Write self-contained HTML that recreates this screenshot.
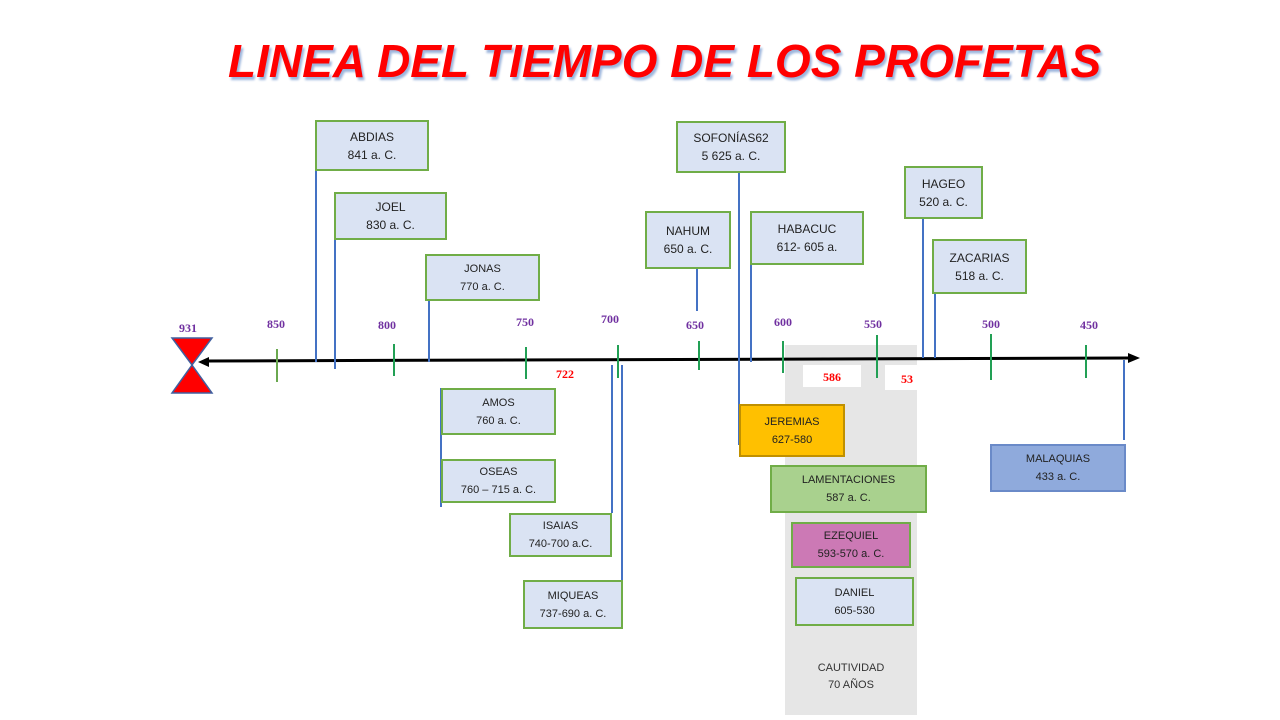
<!DOCTYPE html>
<html><head><meta charset="utf-8"><style>
body{margin:0;width:1280px;height:720px;background:#fff;position:relative;overflow:hidden;font-family:"Liberation Sans",sans-serif}
.b{position:absolute;box-sizing:border-box;border:2px solid #70ad47;background:#dae3f3;color:#222;font-size:12px;line-height:18px;text-align:center;display:flex;flex-direction:column;justify-content:center}
.v{position:absolute;width:1.5px;background:#4472c4}
.t{position:absolute;width:1.5px;background:#22a055}
.y{position:absolute;font-family:"Liberation Serif",serif;font-weight:bold;font-size:12px;color:#7030a0;transform:translateX(-50%)}
.title{position:absolute;left:228px;top:34px;font-size:46px;font-weight:bold;font-style:italic;color:#f00;text-shadow:2px 3px 2px #9db6dd;letter-spacing:0px;white-space:nowrap}
</style></head><body>
<div class="title">LINEA DEL TIEMPO DE LOS PROFETAS</div>
<div style="position:absolute;left:785px;top:345px;width:132px;height:370px;background:#e6e6e6"></div>
<div style="position:absolute;left:803px;top:365px;width:58px;height:22px;background:#fff"></div>
<div style="position:absolute;left:885px;top:365px;width:33px;height:25px;background:#fff"></div>
<svg style="position:absolute;left:0;top:0" width="1280" height="720">
<line x1="205" y1="361" x2="1130" y2="358" stroke="#000" stroke-width="3"/>
<polygon points="1140,358 1128,353 1128,363" fill="#000"/>
<polygon points="198,362 209,357 209,367" fill="#000"/>
<polygon points="172,338 212,338 192,365" fill="#f00" stroke="#4060a0" stroke-width="1.5"/>
<polygon points="192,365 212,393 172,393" fill="#f00" stroke="#4060a0" stroke-width="1.5"/>
</svg>
<div class="t" style="left:276px;top:349px;height:33px;background:#6aa84f;width:2px"></div>
<div class="t" style="left:393px;top:344px;height:32px"></div>
<div class="t" style="left:525px;top:347px;height:32px"></div>
<div class="t" style="left:617px;top:345px;height:33px"></div>
<div class="t" style="left:698px;top:341px;height:29px"></div>
<div class="t" style="left:782px;top:341px;height:32px"></div>
<div class="t" style="left:876px;top:335px;height:43px"></div>
<div class="t" style="left:990px;top:334px;height:46px"></div>
<div class="t" style="left:1085px;top:345px;height:33px"></div>
<div class="v" style="left:315px;top:171px;height:191px"></div>
<div class="v" style="left:334px;top:240px;height:129px"></div>
<div class="v" style="left:428px;top:301px;height:61px"></div>
<div class="v" style="left:440px;top:388px;height:119px"></div>
<div class="v" style="left:611px;top:365px;height:148px"></div>
<div class="v" style="left:621px;top:365px;height:225px"></div>
<div class="v" style="left:738px;top:173px;height:272px"></div>
<div class="v" style="left:696px;top:269px;height:42px"></div>
<div class="v" style="left:750px;top:238px;height:124px"></div>
<div class="v" style="left:922px;top:213px;height:145px"></div>
<div class="v" style="left:934px;top:284px;height:74px"></div>
<div class="v" style="left:1123px;top:360px;height:80px"></div>
<div class="y" style="left:188px;top:321px">931</div>
<div class="y" style="left:276px;top:317px">850</div>
<div class="y" style="left:387px;top:318px">800</div>
<div class="y" style="left:525px;top:315px">750</div>
<div class="y" style="left:610px;top:312px">700</div>
<div class="y" style="left:695px;top:318px">650</div>
<div class="y" style="left:783px;top:315px">600</div>
<div class="y" style="left:873px;top:317px">550</div>
<div class="y" style="left:991px;top:317px">500</div>
<div class="y" style="left:1089px;top:318px">450</div>
<div class="y" style="left:565px;top:367px;color:#f00">722</div>
<div class="y" style="left:832px;top:370px;color:#f00">586</div>
<div class="y" style="left:907px;top:372px;color:#f00">53</div>
<div class="b" style="left:315px;top:120px;width:114px;height:51px">ABDIAS<br>841 a. C.</div>
<div class="b" style="left:334px;top:192px;width:113px;height:48px">JOEL<br>830 a. C.</div>
<div class="b" style="left:425px;top:254px;width:115px;height:47px;font-size:11px">JONAS<br>770 a. C.</div>
<div class="b" style="left:676px;top:121px;width:110px;height:52px">SOFONÍAS62<br>5 625 a. C.</div>
<div class="b" style="left:645px;top:211px;width:86px;height:58px">NAHUM<br>650 a. C.</div>
<div class="b" style="left:750px;top:211px;width:114px;height:54px">HABACUC<br>612- 605 a.</div>
<div class="b" style="left:904px;top:166px;width:79px;height:53px">HAGEO<br>520 a. C.</div>
<div class="b" style="left:932px;top:239px;width:95px;height:55px">ZACARIAS<br>518 a. C.</div>
<div class="b" style="left:441px;top:388px;width:115px;height:47px;font-size:11px">AMOS<br>760 a. C.</div>
<div class="b" style="left:441px;top:459px;width:115px;height:44px;font-size:11px">OSEAS<br>760 – 715 a. C.</div>
<div class="b" style="left:509px;top:513px;width:103px;height:44px;font-size:11px">ISAIAS<br>740-700 a.C.</div>
<div class="b" style="left:523px;top:580px;width:100px;height:49px;font-size:11px">MIQUEAS<br>737-690 a. C.</div>
<div class="b" style="left:739px;top:404px;width:106px;height:53px;background:#ffc000;border-color:#c09000;font-size:11px">JEREMIAS<br>627-580</div>
<div class="b" style="left:770px;top:465px;width:157px;height:48px;background:#a9d18e;font-size:11px">LAMENTACIONES<br>587 a. C.</div>
<div class="b" style="left:791px;top:522px;width:120px;height:46px;background:#cc79b5;font-size:11px">EZEQUIEL<br>593-570 a. C.</div>
<div class="b" style="left:795px;top:577px;width:119px;height:49px;font-size:11px">DANIEL<br>605-530</div>
<div class="b" style="left:990px;top:444px;width:136px;height:48px;background:#8faadc;border-color:#6a8ac8;font-size:11px">MALAQUIAS<br>433 a. C.</div>
<div style="position:absolute;left:785px;top:660px;width:132px;text-align:center;font-size:11px;line-height:17px;color:#333">CAUTIVIDAD<br>70 AÑOS</div>
</body></html>
